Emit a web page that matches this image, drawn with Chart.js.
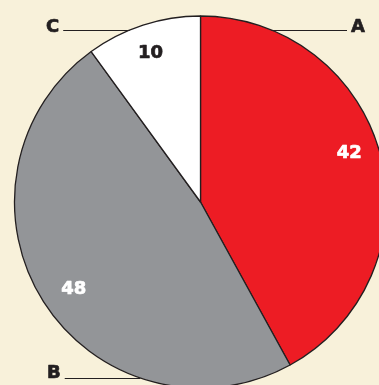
<!DOCTYPE html>
<html>
<head>
<meta charset="utf-8">
<script src="https://cdn.jsdelivr.net/npm/chart.js@4/dist/chart.umd.min.js"></script>
<style>
	html, body { margin: 0; padding: 0; background: #f8f1da; }
	canvas { display: block; }
</style>
</head>
<body>
<canvas id="pie" width="379" height="385"></canvas>
<script>
// slice names and shares (percent)
var categories = ["A", "B", "C"];
var shares = [42, 48, 10];

var sliceColours = ["#ed1c24", "#939598", "#ffffff"];
var valueColours = ["#ffffff", "#ffffff", "#231f20"];
var ink = "#231f20";
var font = "bold 18px 'DejaVu Sans'";

// nudge (px) of each number away from the slice's mid-angle spot
var valueNudge = [[-3.5, -11], [6, 2], [-1.5, 0]];

// where each category name sits, and the height of its leader line
var nameSpots = {
	A: { x: 351, base: 32, lineY: 30, side: "right" },
	B: { x: 47, base: 378, lineY: 378, side: "left" },
	C: { x: 46, base: 32, lineY: 30, side: "left" }
};

// heavy text: fill plus a thin stroke in the same colour
function heavyText(ctx, txt, x, y, colour) {
	ctx.fillStyle = colour;
	ctx.strokeStyle = colour;
	ctx.lineWidth = 0.7;
	ctx.fillText(txt, x, y);
	ctx.strokeText(txt, x, y);
}

// Plugin: numbers inside the slices, names with leader lines outside
var sliceLabels = {
	id: "sliceLabels",
	afterDatasetsDraw(chart) {
		var ctx = chart.ctx;
		var arcs = chart.getDatasetMeta(0).data;
		ctx.save();
		ctx.font = font;
		ctx.lineJoin = "round";

		arcs.forEach(function(arc, i) {
			var p = arc.getProps(["x", "y", "startAngle", "endAngle", "outerRadius"], true);
			var mid = (p.startAngle + p.endAngle) / 2;
			var r = p.outerRadius * 0.845;
			ctx.textAlign = "center";
			ctx.textBaseline = "middle";
			heavyText(ctx, String(shares[i]),
				p.x + Math.cos(mid) * r + valueNudge[i][0],
				p.y + Math.sin(mid) * r + 1 + valueNudge[i][1],
				valueColours[i]);

			// category name and leader line to the rim
			var spot = nameSpots[categories[i]];
			var dy = spot.lineY - p.y;
			var half = Math.sqrt(Math.max(p.outerRadius * p.outerRadius - dy * dy, 0));
			ctx.textAlign = "left";
			ctx.textBaseline = "alphabetic";
			heavyText(ctx, categories[i], spot.x, spot.base, ink);
			var w = ctx.measureText(categories[i]).width;
			ctx.strokeStyle = ink;
			ctx.lineWidth = 1;
			ctx.beginPath();
			if (spot.side == "right") {
				ctx.moveTo(p.x + half, spot.lineY + 0.5);
				ctx.lineTo(spot.x - 4, spot.lineY + 0.5);
			} else {
				ctx.moveTo(spot.x + w + 4, spot.lineY + 0.5);
				ctx.lineTo(p.x - half, spot.lineY + 0.5);
			}
			ctx.stroke();
		});
		ctx.restore();
	}
};

new Chart(document.getElementById("pie"), {
	type: "pie",
	data: {
		labels: categories,
		datasets: [{
			data: shares,
			backgroundColor: sliceColours,
			borderColor: ink,
			borderWidth: 1.3,
			clip: false
		}]
	},
	options: {
		responsive: false,
		animation: false,
		radius: 186,
		layout: { padding: { left: 22, right: 0, top: 19, bottom: 0 } },
		plugins: {
			legend: { display: false },
			tooltip: { enabled: false }
		}
	},
	plugins: [sliceLabels]
});
</script>
</body>
</html>
